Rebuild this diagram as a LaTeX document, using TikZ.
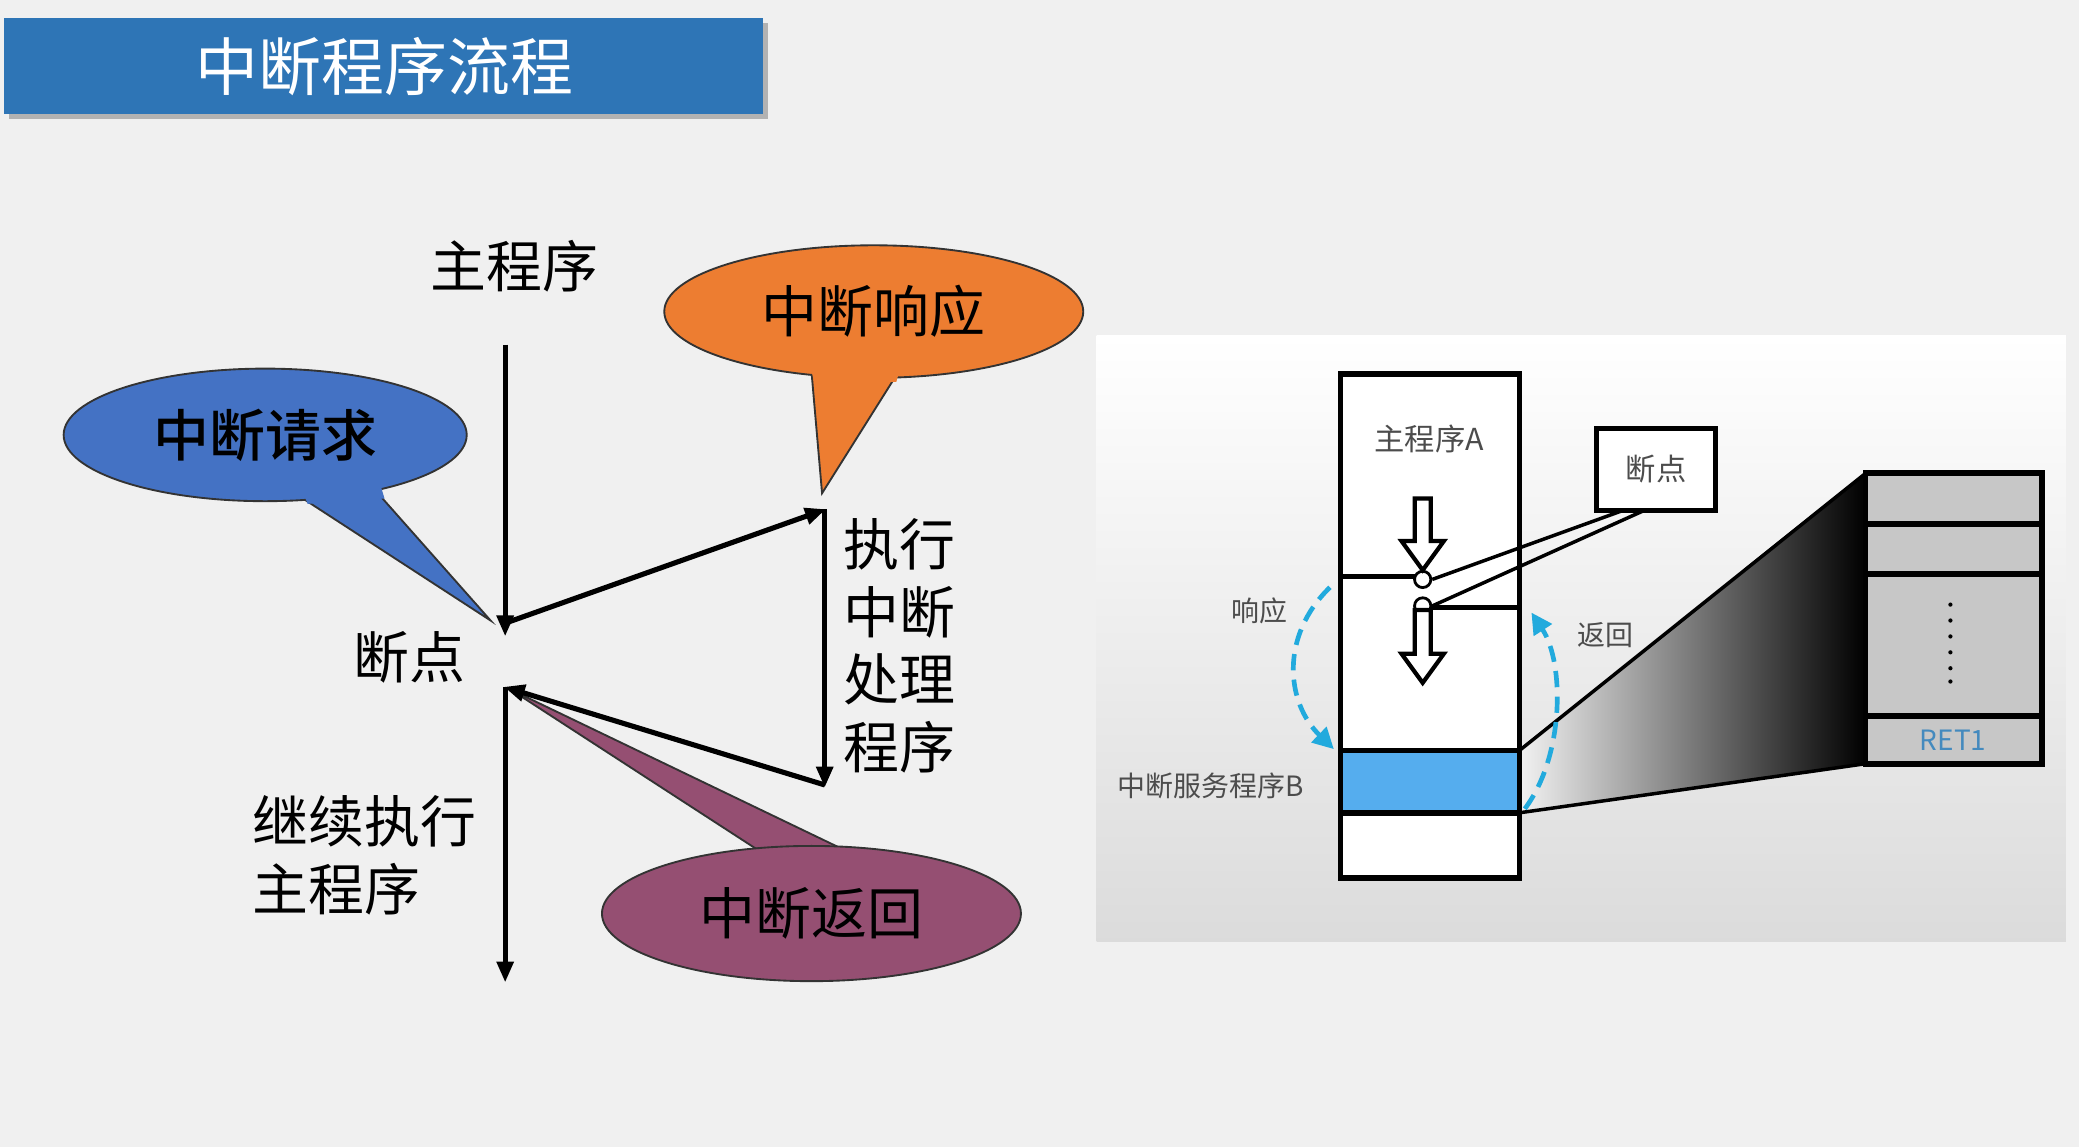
\documentclass[tikz,border=0pt]{standalone}
\usepackage{fontspec}
\setmainfont{Noto Sans CJK SC}
\usetikzlibrary{arrows.meta,shapes.geometric}
\definecolor{bg}{HTML}{F0F0F0}
\definecolor{titleblue}{HTML}{2E75B6}
\definecolor{cblue}{HTML}{4472C4}
\definecolor{corange}{HTML}{ED7D31}
\definecolor{cpurple}{HTML}{954F72}
\definecolor{lblue}{HTML}{55ADEE}
\definecolor{dashblue}{HTML}{22AADD}
\begin{document}
\begin{tikzpicture}[x=0.02cm,y=-0.02cm,
  flow/.style={line width=2.2pt,-{Triangle[length=9pt,width=7pt]}},
  txt/.style={font=\fontsize{24}{28}\selectfont,inner sep=0pt},
  bub/.style={draw=black!80,line width=0.8pt},
  small/.style={font=\fontsize{12}{14}\selectfont,text=black!70,inner sep=0pt},
  thick2/.style={line width=2.5pt}]
\useasboundingbox (0,0) rectangle (1568,865);
\fill[bg] (0,0) rectangle (1568,865);
% title
\fill[black!30] (7,17) rectangle (579,90);
\node[fill=titleblue,minimum width=572*0.02cm,minimum height=73*0.02cm,anchor=north west,inner sep=0pt] (title) at (3,13) {};
\node[text=white,font=\fontsize{27}{30}\selectfont] (tt) at (290,50) {中断程序流程};
% callouts
\filldraw[bub,fill=cblue] (230,377) -- (370,468) -- (285,372) -- cycle;
\node[bub,ellipse,fill=cblue,minimum width=304*0.02cm,minimum height=100*0.02cm,inner sep=0pt] (req) at (200,328) {};
\fill[cblue] (228,370) -- (287,366) -- (290,376)-- (232,380) -- cycle;
\node[txt,font=\fontsize{24}{28}\selectfont\fontspec{Noto Sans CJK SC Medium}] (reqt) at (200,328) {中断请求};
\filldraw[bub,fill=corange] (612,280) -- (620,372) -- (676,283) -- cycle;
\node[bub,ellipse,fill=corange,minimum width=316*0.02cm,minimum height=100*0.02cm,inner sep=0pt] (resp) at (659,235) {};
\fill[corange] (610,272) -- (680,274) -- (676,288) -- (614,288) -- cycle;
\node[txt] (respt) at (659,235) {中断响应};
\filldraw[bub,fill=cpurple] (570,640) -- (385,520) -- (645,645) -- cycle;
\node[bub,ellipse,fill=cpurple,minimum width=316*0.02cm,minimum height=102*0.02cm,inner sep=0pt] (ret) at (612,689) {};
\fill[cpurple] (568,645) -- (648,648) -- (640,658) -- (575,658) -- cycle;
\node[txt] (rett) at (612,689) {中断返回};
% flow
\coordinate (a0) at (381,260); \coordinate (a1) at (381,480);
\coordinate (b0) at (381,470); \coordinate (b1) at (623,384);
\coordinate (c0) at (622,384); \coordinate (c1) at (622,594);
\coordinate (d0) at (622,592); \coordinate (d1) at (380,518);
\coordinate (e0) at (381,518); \coordinate (e1) at (381,741);
\draw[flow] (a0) -- (a1);
\draw[flow] (b0) -- (b1);
\draw[flow] (c0) -- (c1);
\draw[flow] (d0) -- (d1);
\draw[flow] (e0) -- (e1);
\node[txt] (mp) at (388,201) {主程序};
\node[txt] (bp) at (309,496) {断点};
\node[txt,align=left,anchor=west,font=\fontsize{24}{29}\selectfont] (ex) at (636,487) {执行\\中断\\处理\\程序};
\node[txt,align=left,anchor=west,font=\fontsize{24}{29}\selectfont] (cont) at (190,645) {继续执行\\主程序};
% right panel
\shade[top color=white,bottom color=black!14] (827,253) rectangle (1558,710);
\shade[left color=black!5,right color=black] (1146,566) -- (1407,357) -- (1407,576) -- (1146,613) -- cycle;
\draw[line width=1.5pt] (1146,566) -- (1407,357);
\draw[line width=1.5pt] (1146,613) -- (1407,576);
\fill[white] (1011,282) rectangle (1146,662);
\fill[lblue] (1011,566) rectangle (1146,613);
\draw[thick2] (1011,282) rectangle (1146,662);
\draw[thick2] (1011,566) -- (1146,566);
\draw[thick2] (1011,613) -- (1146,613);
\draw[line width=2pt] (1011,435) -- (1069,435);
\draw[line width=2pt] (1077,458) -- (1146,458);
\node[circle,draw,line width=1.2pt,fill=white,inner sep=0pt,minimum size=7pt] (p1) at (1073,437) {};
\node[circle,draw,line width=1.2pt,fill=white,inner sep=0pt,minimum size=7pt] (p2) at (1073,457) {};
\draw[line width=1.8pt,fill=white] (1067,376) -- (1079,376) -- (1079,408) -- (1089,408) -- (1073,430) -- (1057,408) -- (1067,408) -- cycle;
\draw[line width=1.8pt,fill=white] (1067,460) -- (1079,460) -- (1079,493) -- (1089,493) -- (1073,515) -- (1057,493) -- (1067,493) -- cycle;
\node[small,font=\fontsize{13}{15}\selectfont] (ma) at (1078,331) {主程序A};
\node[draw,line width=2pt,fill=white,minimum width=90*0.02cm,minimum height=62*0.02cm,inner sep=0pt] (bpbox) at (1249,354) {};
\node[small,font=\fontsize{13}{15}\selectfont] (bpt) at (1249,354) {断点};
\draw[line width=1.5pt] (1224,385) -- (p1.east);
\draw[line width=1.5pt] (1240,385) -- (p2.east);
\node[small] (xy) at (950,461) {响应};
\node[small] (fh) at (1211,479) {返回};
\node[small] (isr) at (913,593) {中断服务程序B};
\draw[dashblue,line width=2pt,dash pattern=on 7pt off 4pt,-{Triangle[length=9pt,width=9pt]}] (1003,443) .. controls (965,480) and (970,530) .. (1006,565);
\draw[dashblue,line width=2pt,dash pattern=on 7pt off 4pt,-{Triangle[length=9pt,width=9pt]}] (1150,610) .. controls (1180,570) and (1180,500) .. (1155,462);
% stack
\fill[black!22] (1407,357) rectangle (1540,576);
\draw[line width=2.5pt] (1407,357) rectangle (1540,576);
\draw[line width=2.5pt] (1407,395) -- (1540,395);
\draw[line width=2.5pt] (1407,433) -- (1540,433);
\draw[line width=2.5pt] (1407,540) -- (1540,540);
\foreach \yy in {456,468,480,492,504,514} \fill (1471,\yy) circle (1.6);
\node[small,text=lblue!80!black] (r1) at (1473,558) {RET1};
\end{tikzpicture}
\end{document}
